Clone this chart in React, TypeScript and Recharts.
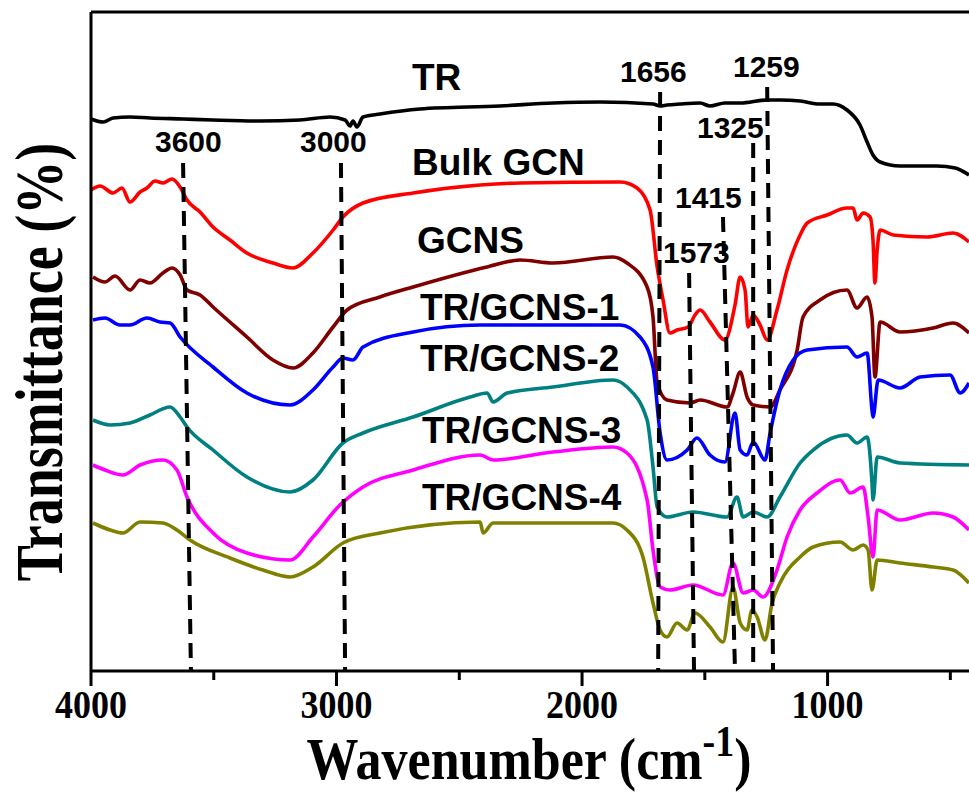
import { LineChart, Line, XAxis, YAxis, ReferenceLine } from 'recharts';

// FTIR spectra, stacked with offsets. [wavenumber (cm-1), transmittance (a.u., offset)]
const trSpectrum: [number, number][] = [
  [4000, 552], [3950, 549], [3910, 553], [3841, 554], [3760, 553], [3625, 552], [3503, 551],
  [3312, 550], [3149, 551], [3026, 554], [2965, 551], [2945, 545], [2933, 550], [2917, 544],
  [2892, 554], [2823, 557], [2660, 562], [2334, 565], [2118, 568], [1927, 569], [1711, 567],
  [1682, 565], [1654, 566], [1601, 567], [1519, 568], [1479, 565], [1418, 568], [1356, 568],
  [1246, 571], [1194, 571], [1112, 570], [1031, 567], [978, 567], [921, 561], [868, 546],
  [839, 529], [815, 516], [786, 509], [705, 505], [555, 505], [480, 503], [424, 496],
];

const bulkGcn: [number, number][] = [
  [4000, 481], [3963, 485], [3910, 478], [3874, 483], [3841, 469], [3800, 479], [3772, 483],
  [3739, 490], [3707, 488], [3670, 492], [3637, 484], [3609, 471], [3556, 459], [3503, 444],
  [3434, 431], [3365, 418], [3259, 408], [3177, 403], [3096, 418], [3014, 441], [2974, 454],
  [2892, 468], [2688, 478], [2415, 486], [2253, 488], [1845, 489], [1776, 483], [1723, 461],
  [1694, 404], [1670, 371], [1642, 338], [1613, 341], [1568, 344], [1540, 356], [1519, 361],
  [1479, 349], [1418, 331], [1377, 366], [1356, 394], [1336, 381], [1324, 344], [1303, 356],
  [1275, 346], [1246, 331], [1206, 361], [1165, 401], [1112, 436], [1083, 448], [1002, 456],
  [921, 463], [896, 463], [880, 451], [855, 458], [827, 454], [815, 431], [807, 388], [798, 421],
  [786, 441], [733, 436], [595, 434], [489, 438], [424, 429],
];

const gcns: [number, number][] = [
  [3992, 394], [3943, 389], [3902, 395], [3841, 381], [3800, 391], [3760, 388], [3707, 398],
  [3670, 403], [3637, 396], [3609, 381], [3556, 376], [3503, 364], [3365, 334], [3259, 311],
  [3177, 303], [3096, 318], [3014, 344], [2957, 361], [2823, 374], [2688, 384], [2387, 404],
  [2253, 411], [2118, 408], [1874, 414], [1817, 408], [1735, 384], [1711, 354], [1694, 288],
  [1654, 271], [1560, 268], [1519, 271], [1409, 264], [1385, 278], [1356, 299], [1328, 274],
  [1303, 266], [1234, 264], [1194, 281], [1124, 321], [1100, 354], [1031, 371], [921, 381],
  [880, 363], [839, 374], [819, 354], [807, 294], [786, 349], [705, 339], [570, 343],
  [489, 348], [424, 338],
];

const trGcns1: [number, number][] = [
  [3992, 351], [3943, 353], [3882, 346], [3841, 346], [3772, 353], [3719, 349], [3678, 348],
  [3637, 334], [3503, 304], [3365, 278], [3189, 266], [3096, 281], [3014, 304], [2974, 313],
  [2933, 311], [2892, 324], [2688, 339], [2415, 346], [1845, 346], [1764, 334], [1711, 304],
  [1682, 238], [1654, 211], [1572, 221], [1532, 233], [1479, 216], [1418, 209], [1377, 258],
  [1356, 221], [1328, 216], [1303, 229], [1255, 211], [1234, 238], [1194, 281], [1140, 311],
  [1083, 321], [921, 324], [880, 314], [839, 318], [819, 261], [815, 254], [794, 291],
  [705, 283], [623, 294], [501, 296], [460, 278], [424, 288],
];

const trGcns2: [number, number][] = [
  [3992, 251], [3922, 246], [3841, 248], [3760, 256], [3678, 264], [3637, 254], [3609, 244],
  [3503, 221], [3365, 194], [3189, 179], [3096, 191], [2974, 228], [2892, 238], [2688, 254],
  [2456, 274], [2387, 278], [2362, 269], [2305, 278], [2118, 284], [1874, 291], [1817, 284],
  [1735, 251], [1711, 204], [1694, 164], [1654, 154], [1548, 159], [1409, 154], [1369, 174],
  [1344, 154], [1303, 159], [1246, 154], [1194, 174], [1112, 208], [1059, 221], [921, 236],
  [880, 228], [839, 234], [819, 188], [815, 171], [798, 214], [705, 208], [424, 206],
];

const trGcns3: [number, number][] = [
  [3992, 206], [3943, 201], [3870, 196], [3800, 206], [3707, 211], [3650, 201], [3609, 174],
  [3503, 138], [3365, 118], [3189, 111], [3096, 134], [2986, 166], [2892, 184], [2688, 201],
  [2415, 216], [2362, 211], [2118, 219], [1874, 224], [1817, 218], [1735, 171], [1711, 121],
  [1682, 84], [1642, 81], [1548, 86], [1426, 76], [1385, 108], [1344, 78], [1303, 81],
  [1263, 74], [1206, 101], [1165, 134], [1112, 161], [1043, 178], [949, 191], [908, 178],
  [855, 184], [835, 154], [815, 114], [798, 161], [705, 151], [570, 158], [489, 154], [424, 141],
];

const trGcns4: [number, number][] = [
  [3992, 148], [3922, 141], [3870, 138], [3800, 149], [3707, 148], [3650, 141], [3597, 131],
  [3434, 113], [3300, 101], [3189, 94], [3096, 104], [2974, 128], [2823, 138], [2415, 149],
  [2403, 138], [2362, 148], [1874, 148], [1817, 141], [1752, 114], [1711, 68], [1682, 41],
  [1654, 34], [1613, 48], [1572, 41], [1540, 58], [1479, 44], [1426, 29], [1385, 84],
  [1356, 48], [1328, 41], [1308, 61], [1287, 54], [1255, 31], [1226, 68], [1194, 88],
  [1112, 114], [1059, 124], [949, 129], [896, 121], [855, 126], [835, 121], [819, 81],
  [798, 111], [705, 108], [570, 104], [489, 101], [424, 88],
];

const seriesNames = ['TR', 'Bulk GCN', 'GCNS', 'TR/GCNS-1', 'TR/GCNS-2', 'TR/GCNS-3', 'TR/GCNS-4'];
const seriesData = [trSpectrum, bulkGcn, gcns, trGcns1, trGcns2, trGcns3, trGcns4];
const seriesColors = ['#000000', '#ff0000', '#800000', '#0000ff', '#008080', '#ff00ff', '#808000'];

// marked bands: label, wavenumber at top / bottom of the dashed line, top height
const bandLabels = ['3600', '3000', '1656', '1573', '1415', '1325', '1259'];
const bandTop = [3625, 2982, 1682, 1564, 1426, 1303, 1246];
const bandBottom = [3593, 2965, 1690, 1544, 1377, 1303, 1222];
const bandTopY = [508, 508, 579, 398, 454, 528, 584];

const xTicks = [4000, 3500, 3000, 2500, 2000, 1500, 1000, 500];

const serif = '"Liberation Serif", "Times New Roman", serif';
const sans = '"Liberation Sans", Arial, sans-serif';

// label positions in px (text annotations)
const curveLabelPos: [number, number][] = [
  [412, 90], [412, 175], [417, 253], [420, 320], [420, 371], [422, 443], [422, 510],
];
const bandLabelPos: [number, number][] = [
  [155, 152], [300, 152], [620, 82], [663, 263], [675, 208], [697, 138], [733, 77],
];

const XTick = (props: any) => {
  const { x, y, payload } = props;
  const major = payload.value % 1000 === 0;
  return (
    <g>
      <line x1={x} x2={x} y1={y} y2={y + (major ? 15 : 9)} stroke="#000" strokeWidth={3} />
      {major && (
        <text
          transform={`translate(${x},${y + 47}) scale(1,1.12)`}
          textAnchor="middle"
          fontFamily={serif}
          fontWeight="bold"
          fontSize={36}
          fill="#000"
        >
          {payload.value}
        </text>
      )}
    </g>
  );
};

export default function App() {
  const lines = seriesData.map((s) => s.map(([wn, t]) => ({ wn, t })));

  return (
    <div style={{ position: 'absolute', left: 0, top: 0, width: 969, height: 798, background: '#fff' }}>
      <LineChart width={969} height={798} margin={{ top: 12, right: 0, bottom: 0, left: 0 }}>
        <XAxis
          type="number"
          dataKey="wn"
          domain={[424, 4000]}
          reversed
          allowDataOverflow
          ticks={xTicks}
          interval={0}
          height={127}
          tickSize={0}
          tickMargin={0}
          tickLine={false}
          axisLine={{ stroke: '#000', strokeWidth: 3 }}
          tick={<XTick />}
        />
        <YAxis
          type="number"
          domain={[0, 659]}
          width={91}
          tick={false}
          tickLine={false}
          axisLine={{ stroke: '#000', strokeWidth: 3 }}
        />
        <ReferenceLine y={659} stroke="#000" strokeWidth={3} />
        {lines.map((d, i) => (
          <Line
            key={seriesNames[i]}
            data={d}
            dataKey="t"
            name={seriesNames[i]}
            type="monotone"
            stroke={seriesColors[i]}
            strokeWidth={3.6}
            dot={false}
            isAnimationActive={false}
          />
        ))}
        {bandLabels.map((b, i) => (
          <ReferenceLine
            key={b}
            segment={[
              { x: bandTop[i], y: bandTopY[i] },
              { x: bandBottom[i], y: 0 },
            ]}
            stroke="#000"
            strokeWidth={4}
            strokeDasharray="15 9"
          />
        ))}
        <g>
          {bandLabels.map((b, i) => (
            <text
              key={b}
              x={bandLabelPos[i][0]}
              y={bandLabelPos[i][1]}
              fontFamily={sans}
              fontWeight="bold"
              fontSize={30}
              fill="#000"
            >
              {b}
            </text>
          ))}
          {seriesNames.map((n, i) => (
            <text
              key={n}
              x={curveLabelPos[i][0]}
              y={curveLabelPos[i][1]}
              fontFamily={sans}
              fontWeight="bold"
              fontSize={37}
              fill="#000"
            >
              {n}
            </text>
          ))}
          <text
            transform="translate(62,362) scale(1.25,1) rotate(-90)"
            textAnchor="middle"
            fontFamily={serif}
            fontWeight="bold"
            fontSize={54}
            fill="#000"
          >
            Transmittance (%)
          </text>
          <text
            transform="translate(529,779) scale(1,1.15)"
            textAnchor="middle"
            fontFamily={serif}
            fontWeight="bold"
            fontSize={52}
            fill="#000"
          >
            Wavenumber (cm
            <tspan dy={-20} fontSize={38}>-1</tspan>
            <tspan dy={20}>)</tspan>
          </text>
        </g>
      </LineChart>
    </div>
  );
}
